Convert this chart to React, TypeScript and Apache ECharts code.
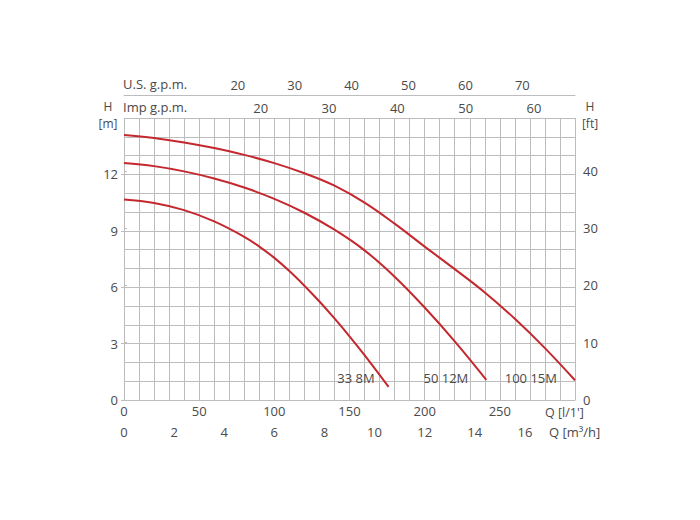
import React, { useEffect, useRef } from "react";
import * as echarts from "echarts";

// Flow (l/min) and head (m)
const Q_33_8M = [0, 20, 40, 60, 80, 90, 100, 110, 120, 130, 140, 150, 160, 176];
const H_33_8M = [10.66, 10.48, 10.1, 9.5, 8.68, 8.16, 7.56, 6.86, 6.08, 5.24, 4.34, 3.39, 2.39, 0.7];

const Q_50_12M = [0, 20, 40, 60, 80, 100, 120, 140, 160, 180, 200, 220, 241];
const H_50_12M = [12.6, 12.44, 12.16, 11.78, 11.3, 10.7, 9.96, 9.06, 7.96, 6.56, 4.92, 3.12, 1.07];

const Q_100_15M = [0, 20, 40, 60, 80, 100, 120, 140, 160, 180, 200, 220, 240, 260, 280, 300];
const H_100_15M = [14.1, 13.94, 13.7, 13.4, 13.04, 12.6, 12.06, 11.4, 10.5, 9.38, 8.16, 6.96, 5.72, 4.32, 2.76, 1.05];

const CURVE_NAMES = ["33 8M", "50 12M", "100 15M"];
const CURVE_Q = [Q_33_8M, Q_50_12M, Q_100_15M];
const CURVE_H = [H_33_8M, H_50_12M, H_100_15M];

const Q_LPM_MAX = 300;
const H_M_MAX = 15;
const M_TO_FT = 3.28084;
const LPM_PER_M3H = 1000 / 60;
const LPM_PER_USGPM = 3.78541;
const LPM_PER_IMPGPM = 4.54609;

const FONT = "Open Sans";
const TXT = "#4a4a4a";
const GRIDC = "#bdbdbd";
const RED = "#c4282e";

export default function App() {
  const ref = useRef<HTMLDivElement>(null);
  useEffect(() => {
    const chart = echarts.init(ref.current!, null, { renderer: "svg" });
    const lbl = { fontFamily: FONT, fontSize: 13, color: TXT };
    const option: any = {
      animation: false,
      grid: { left: 124, right: 125, top: 118, bottom: 120 },
      xAxis: [
        {
          type: "value", position: "bottom", min: 0, max: Q_LPM_MAX, interval: 10,
          axisLine: { show: false }, axisTick: { show: false },
          splitLine: { show: true, lineStyle: { color: GRIDC, width: 1 } },
          axisLabel: { ...lbl, margin: 4, showMaxLabel: false,
            formatter: (v: number) => (v % 50 === 0 && v < Q_LPM_MAX ? String(v) : "") },
        },
        {
          type: "value", position: "bottom", offset: 18, min: 0, max: Q_LPM_MAX / LPM_PER_M3H, interval: 2,
          axisLine: { show: true, lineStyle: { color: GRIDC } }, axisTick: { show: false },
          splitLine: { show: false },
          axisLabel: { ...lbl, margin: 7, showMaxLabel: false,
            formatter: (v: number) => (v < 18 ? String(v) : "") },
        },
        {
          type: "value", position: "top", offset: 0, min: 0, max: Q_LPM_MAX / LPM_PER_IMPGPM, interval: 10,
          axisLine: { show: false }, axisTick: { show: false }, splitLine: { show: false },
          axisLabel: { ...lbl, margin: 4, showMaxLabel: false,
            formatter: (v: number) => (v >= 20 && v <= 60 ? String(v) : "") },
        },
        {
          type: "value", position: "top", offset: 23, min: 0, max: Q_LPM_MAX / LPM_PER_USGPM, interval: 10,
          axisLine: { show: true, lineStyle: { color: GRIDC } }, axisTick: { show: false }, splitLine: { show: false },
          axisLabel: { ...lbl, margin: 4, showMaxLabel: false,
            formatter: (v: number) => (v >= 20 && v <= 70 ? String(v) : "") },
        },
      ],
      yAxis: [
        {
          type: "value", position: "left", min: 0, max: H_M_MAX, interval: 1,
          axisLine: { show: false }, axisTick: { show: false }, axisLabel: { show: false },
          splitLine: { show: true, lineStyle: { color: GRIDC, width: 1 } },
        },
        {
          type: "value", position: "left", min: 0, max: H_M_MAX, interval: 3,
          axisLine: { show: false }, axisTick: { show: true, length: 3, lineStyle: { color: GRIDC } },
          splitLine: { show: false },
          axisLabel: { ...lbl, margin: 6, showMaxLabel: false,
            formatter: (v: number) => (v < H_M_MAX ? String(v) : "") },
        },
        {
          type: "value", position: "right", min: 0, max: H_M_MAX * M_TO_FT, interval: 10,
          axisLine: { show: false }, axisTick: { show: true, length: 3, lineStyle: { color: GRIDC } },
          splitLine: { show: false },
          axisLabel: { ...lbl, margin: 8, showMaxLabel: false },
        },
      ],
      series: CURVE_NAMES.map((name, i) => ({
        name, type: "line", xAxisIndex: 0, yAxisIndex: 0, smooth: 0.4, symbol: "none",
        lineStyle: { color: RED, width: 2 },
        data: CURVE_Q[i].map((q, k) => [q, CURVE_H[i][k]]),
      })),
    };
    chart.setOption(option);

    const t = (text: string, x: number, y: number, align: string = "left", size: number = 13) => ({
      type: "text", x, y,
      style: { text, fontFamily: FONT, fontSize: size, fill: TXT, textAlign: align, textVerticalAlign: "middle" },
    });
    const statics = [
      t("U.S. g.p.m.", 123, 84),
      t("Imp g.p.m.", 123, 107),
      t("H", 108, 106, "center", 12),
      t("[m]", 108, 123, "center", 12),
      t("H", 590, 106, "center", 12),
      t("[ft]", 590, 123, "center", 12),
      t("Q [l/1']", 545, 412, "left", 12.5),
      t("Q [m³/h]", 549, 432),
    ];
    const curveLabels = CURVE_NAMES.map((name, i) => {
      const q = CURVE_Q[i][CURVE_Q[i].length - 1];
      const p = chart.convertToPixel({ seriesIndex: i }, [q, 1.17]) as number[];
      return t(name, p[0] - (i === 0 ? 14 : 18), p[1], "right");
    });
    chart.setOption({ graphic: [...statics, ...curveLabels] });
    return () => chart.dispose();
  }, []);
  return <div ref={ref} style={{ position: "absolute", left: 0, top: 0, width: 700, height: 520 }} />;
}
